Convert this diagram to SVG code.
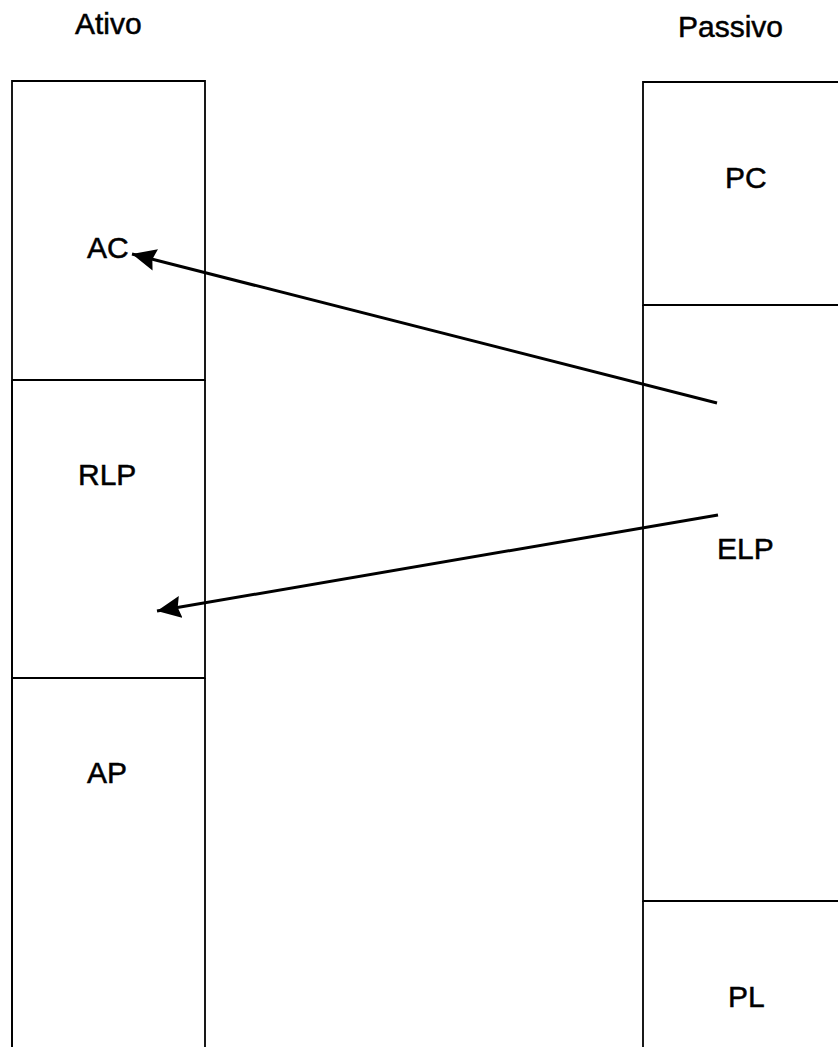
<svg xmlns="http://www.w3.org/2000/svg" width="838" height="1047" viewBox="0 0 838 1047">
<style>
text{font-family:"Liberation Sans",Arial,sans-serif;font-size:30px;fill:#000;stroke:#000;stroke-width:0.5}
.box{fill:none;stroke:#000;stroke-width:1.8}
.conn{stroke:#000;stroke-width:3;fill:none}
</style>
<defs>
<marker id="ah" markerUnits="userSpaceOnUse" markerWidth="26" markerHeight="24" refX="24" refY="11" orient="auto">
<path d="M0,0 L24,11 L0,22 L3,11 Z" fill="#000"/>
</marker>
</defs>
<rect width="838" height="1047" fill="#fff"/>
<g id="titles">
<text x="75" y="34">Ativo</text>
<text x="678" y="37">Passivo</text>
</g>
<g id="AC">
<path class="box" d="M12,1047 V81 H205 V380 H12"/>
<text x="87" y="258">AC</text>
</g>
<g id="RLP">
<path class="box" d="M12,380 V678 H205 V380"/>
<text x="78" y="485">RLP</text>
</g>
<g id="AP">
<path class="box" d="M12,678 V1047 M205,678 V1047"/>
<text x="87" y="783">AP</text>
</g>
<g id="PC">
<path class="box" d="M839,82 H643 V305 H839"/>
<text x="725" y="188">PC</text>
</g>
<g id="ELP">
<path class="box" d="M643,305 V901 H839"/>
<text x="717" y="559">ELP</text>
</g>
<g id="PL">
<path class="box" d="M643,901 V1047"/>
<text x="728" y="1007">PL</text>
</g>
<g id="connectors">
<line class="conn" x1="717" y1="403" x2="132" y2="254" marker-end="url(#ah)"/>
<line class="conn" x1="718" y1="515" x2="157" y2="611" marker-end="url(#ah)"/>
</g>
</svg>
